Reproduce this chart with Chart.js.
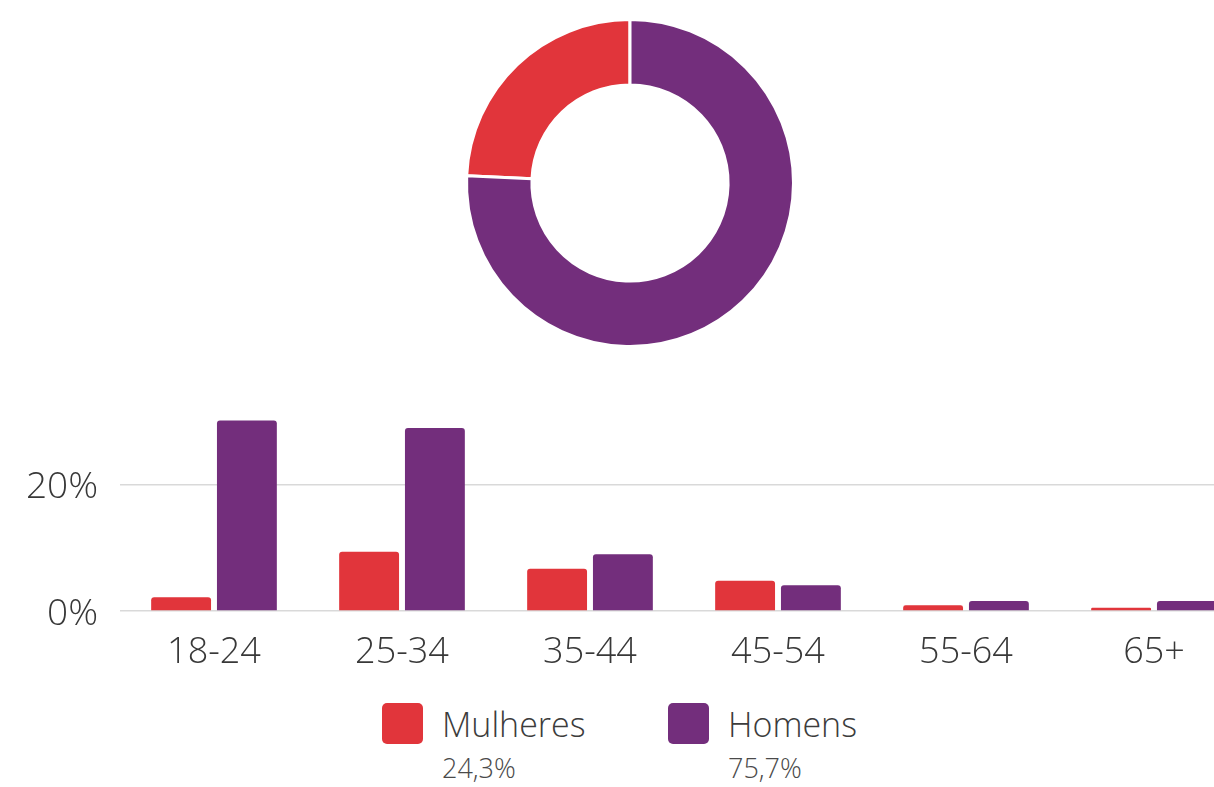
<!DOCTYPE html>
<html>
<head>
<meta charset="utf-8">
<script src="https://cdn.jsdelivr.net/npm/chart.js@4/dist/chart.umd.min.js"></script>
<style>
  html, body { margin: 0; padding: 0; background: #ffffff; width: 1214px; height: 787px; overflow: hidden; position: relative; font-family: "Open Sans", sans-serif; }
  #donutBox { position: absolute; left: 460px; top: 13px; width: 340px; height: 340px; }
  #barBox { position: absolute; left: 0px; top: 365px; width: 1248px; height: 305px; }
  .sw { position: absolute; width: 41px; height: 41px; border-radius: 5px; }
  .lbl { position: absolute; font-size: 34px; line-height: 34px; color: #3c3c3c; font-weight: 300; white-space: nowrap; }
  .pct { position: absolute; font-size: 27px; line-height: 27px; color: #4a4a4a; font-weight: 300; white-space: nowrap; }
</style>
</head>
<body>
<div id="donutBox"><canvas id="donut" width="340" height="340"></canvas></div>
<div id="barBox"><canvas id="bars" width="1248" height="305"></canvas></div>
<div id="legend"></div>
<script>
// ---- data ----
const genderLabels = ['Mulheres', 'Homens'];
const genderShares = [24.3, 75.7];
const genderShareText = ['24,3%', '75,7%'];
const ageGroups = ['18-24', '25-34', '35-44', '45-54', '55-64', '65+'];
const womenByAge = [2.2, 9.4, 6.7, 4.8, 0.9, 0.5];
const menByAge = [30.2, 29.0, 9.0, 4.1, 1.6, 1.6];
const yTickValues = [0, 20];

// ---- styles ----
const RED = '#e1353b';
const PURPLE = '#732e7c';
const seriesColors = [RED, PURPLE];
const textColor = '#383838';

// Doughnut
new Chart(document.getElementById('donut'), {
  type: 'doughnut',
  data: {
    labels: genderLabels,
    datasets: [{
      data: genderShares,
      backgroundColor: seriesColors,
      borderColor: '#ffffff',
      borderWidth: 3,
      hoverOffset: 0
    }]
  },
  options: {
    responsive: false,
    devicePixelRatio: 1,
    animation: false,
    cutout: '60%',
    rotation: -genderShares[0] / 100 * 360,
    layout: { padding: 5 },
    plugins: { legend: { display: false }, tooltip: { enabled: false } }
  }
});

// Bars
new Chart(document.getElementById('bars'), {
  type: 'bar',
  data: {
    labels: ageGroups,
    datasets: [
      { label: genderLabels[0], data: womenByAge, backgroundColor: RED,
        borderRadius: { topLeft: 3, topRight: 3 }, borderSkipped: 'start',
        categoryPercentage: 0.70, barPercentage: 0.91 },
      { label: genderLabels[1], data: menByAge, backgroundColor: PURPLE,
        borderRadius: { topLeft: 3, topRight: 3 }, borderSkipped: 'start',
        categoryPercentage: 0.70, barPercentage: 0.91 }
    ]
  },
  options: {
    responsive: false,
    devicePixelRatio: 1,
    animation: false,
    layout: { padding: { top: 0, left: 0, right: 0, bottom: 0 } },
    scales: {
      x: {
        grid: { display: false },
        border: { display: false },
        ticks: { color: textColor, font: { family: 'Open Sans', size: 36, weight: 300 }, padding: 12, maxRotation: 0 },
        afterFit: (s) => { s.height = 59; }
      },
      y: {
        min: 0, max: 32,
        afterBuildTicks: (s) => { s.ticks = yTickValues.map(v => ({ value: v })); },
        grid: { color: '#d9d9d9', lineWidth: 1.5, drawTicks: false },
        border: { display: false },
        ticks: { color: textColor, font: { family: 'Open Sans', size: 37, weight: 300 }, padding: 22,
                 labelOffset: 3, callback: (v) => v + '%' },
        afterFit: (s) => { s.width = 120; }
      }
    },
    plugins: { legend: { display: false }, tooltip: { enabled: false } }
  }
});

// Legend (HTML text)
const legendPos = [{ sw: 382, tx: 442 }, { sw: 668, tx: 728 }];
const legend = document.getElementById('legend');
genderLabels.forEach((name, i) => {
  const sw = document.createElement('div');
  sw.className = 'sw';
  sw.style.left = legendPos[i].sw + 'px';
  sw.style.top = '703px';
  sw.style.background = seriesColors[i];
  legend.appendChild(sw);
  const l = document.createElement('div');
  l.className = 'lbl';
  l.style.left = legendPos[i].tx + 'px';
  l.style.top = '707px';
  l.textContent = name;
  legend.appendChild(l);
  const p = document.createElement('div');
  p.className = 'pct';
  p.style.left = legendPos[i].tx + 'px';
  p.style.top = '754px';
  p.textContent = genderShareText[i];
  legend.appendChild(p);
});
</script>
</body>
</html>
